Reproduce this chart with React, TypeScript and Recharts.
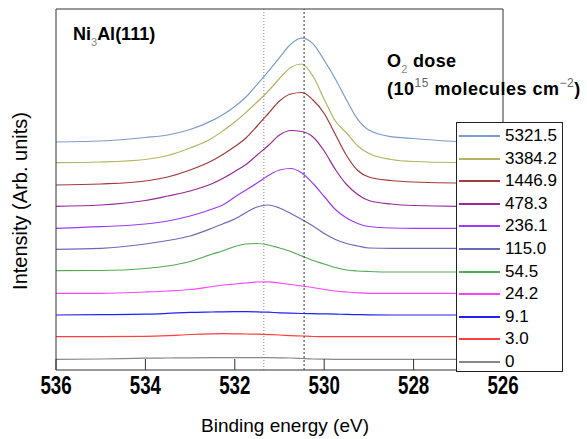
import { LineChart, Line, XAxis, YAxis, ReferenceLine } from 'recharts'

// binding energy grid (eV), high -> low
const energy = [536, 535, 534, 533.5, 533, 532.5, 532.25, 532, 531.75, 531.5, 531.25, 531, 530.75, 530.5, 530.25, 530, 529.75, 529.5, 529.25, 529, 528.5, 528, 527, 526]

// offset O 1s spectra, one per O2 dose (arb. units)
const s5321 = [228, 229, 232.5, 235, 240.5, 249.6, 255.8, 263.5, 273, 285.6, 298.6, 312.3, 325.7, 331.8, 326.1, 309.7, 291, 270, 250.7, 240, 233.3, 231.5, 228.5, 228.3]
const s3384 = [207.3, 208, 210.5, 214.5, 222, 232, 239.7, 248, 257.6, 268, 279, 291.5, 302.5, 306, 293.7, 270.7, 249, 237, 224, 216.5, 210.5, 208.5, 207.5, 207.3]
const s1446 = [185, 186, 189, 193, 200, 209.5, 216, 223.5, 232, 244, 256.5, 269, 276, 277.5, 270, 256.5, 235.5, 214.5, 199.5, 193, 189.5, 188, 187, 187]
const s478 = [163.7, 165, 169.5, 174, 179, 186.5, 192, 198.5, 205.5, 215, 224.5, 235, 239.5, 238.5, 233, 219, 200.5, 185.5, 175.5, 169.5, 166, 164.5, 163.7, 163.7]
const s236 = [141.7, 143.3, 146, 149, 154, 161, 165.5, 173, 180, 187, 194.5, 200, 201.5, 197, 186.5, 173.5, 160.5, 152, 146.5, 143.5, 142, 141.7, 141.7, 141.7]
const s115 = [120.7, 121.7, 126, 129.5, 134, 142, 146.5, 151, 157.5, 163, 165, 162, 156.5, 150.5, 144, 136.5, 130.5, 126.5, 124, 122, 121.7, 121.7, 121.7, 121.7]
const s54 = [99.3, 99.5, 101.5, 104, 108.5, 116, 119.5, 123.5, 126, 126.5, 125, 122, 118.5, 114, 109.5, 106, 102.5, 100, 99, 98.5, 98, 98, 98, 98]
const s24 = [76.7, 76.7, 78, 79, 80.5, 83.5, 85, 86, 87, 88, 88.2, 87, 85.5, 84, 82.5, 80.5, 79, 78, 77.2, 76.7, 76.7, 76.7, 76.7, 76.7]
const s9 = [55, 55.3, 55.8, 56.6, 57.6, 58, 58.2, 58.3, 58.3, 58.2, 57.8, 57.2, 56.8, 56.5, 56.3, 56.1, 55.9, 55.6, 55.4, 55.2, 55, 55, 55, 55]
const s3 = [33.3, 33.3, 33.6, 34.3, 35.5, 36.2, 36.3, 36.2, 36, 35.8, 35.4, 35, 34.4, 34, 33.5, 33.3, 33.3, 33.3, 33.3, 33.3, 33.3, 33.3, 33.3, 33.3]
const s0 = [10.7, 11, 11.8, 12, 12.2, 12.3, 12.3, 12.3, 12.3, 12.3, 12.3, 12.2, 12, 11.5, 11, 10.8, 10.7, 10.7, 10.7, 10.7, 10.7, 10.7, 10.7, 10.7]

const doses = ['5321.5', '3384.2', '1446.9', '478.3', '236.1', '115.0', '54.5', '24.2', '9.1', '3.0', '0']
const colors = ['#7b9ccc', '#b4b464', '#a23a3a', '#992a99', '#9a3cff', '#6a6ab8', '#55aa55', '#ff44ff', '#2020ff', '#ff4040', '#888888']
const series = [s5321, s3384, s1446, s478, s236, s115, s54, s24, s9, s3, s0]

const majorTicks = [536, 534, 532, 530, 528, 526]
const minorTicks = [535, 533, 531, 529, 527]
const allTicks = [536, 535, 534, 533, 532, 531, 530, 529, 528, 527, 526]

const refLines = [531.35, 530.45]

const rows = energy.map((e, i) => {
  const r: Record<string, number> = { e }
  series.forEach((s, k) => { r['d' + k] = s[i] })
  return r
})

const FONT = '"Liberation Sans", Arial, sans-serif'
const AXIS = '#333'

// tall, narrow bold tick digits like the original plot
function EnergyTick({ x, y, payload }: { x?: number; y?: number; payload?: { value: number } }) {
  return (
    <text
      transform={`translate(${x},${(y ?? 0) + 19}) scale(0.72,1)`}
      textAnchor="middle" fontSize={26} fontWeight="bold" fontFamily={FONT} fill="#000"
    >
      {payload?.value}
    </text>
  )
}

function DoseLegend() {
  return (
    <div style={{
      position: 'absolute', left: 456, top: 122, width: 107, height: 250,
      border: '1px solid #222', background: '#fff', boxSizing: 'border-box',
      fontFamily: FONT, fontSize: 17,
    }}>
      {doses.map((d, i) => (
        <div key={d} style={{ position: 'absolute', left: 0, top: 2 + i * 22.6, height: 22, width: 105 }}>
          <span style={{ position: 'absolute', left: 2, top: 10, width: 41, height: 0, borderTop: `2px solid ${colors[i]}` }} />
          <span style={{ position: 'absolute', left: 48, top: 1, lineHeight: '20px' }}>{d}</span>
        </div>
      ))}
    </div>
  )
}

export default function App() {
  return (
    <div style={{ position: 'absolute', left: 0, top: 0, width: 587, height: 439, background: '#fff' }}>
      <LineChart width={587} height={439} data={rows} margin={{ top: 8, right: 83, bottom: 67, left: 55 }}>
        <XAxis
          xAxisId="b" dataKey="e" type="number" domain={[526, 536]} reversed allowDataOverflow
          ticks={majorTicks} interval={0} height={1}
          tickSize={-11} tickMargin={16}
          tick={<EnergyTick />}
          axisLine={{ stroke: AXIS }} tickLine={{ stroke: AXIS }}
        />
        <XAxis
          xAxisId="bm" dataKey="e" type="number" domain={[526, 536]} reversed allowDataOverflow
          ticks={minorTicks} interval={0} height={1}
          tickSize={-6} tick={false} axisLine={false} tickLine={{ stroke: AXIS }}
        />
        <XAxis
          xAxisId="t" orientation="top" dataKey="e" type="number" domain={[526, 536]} reversed allowDataOverflow
          ticks={allTicks} interval={0} height={1}
          tickSize={-5} tick={false} axisLine={{ stroke: AXIS }} tickLine={{ stroke: AXIS }}
        />
        <YAxis yAxisId="l" type="number" domain={[0, 361]} width={1} tick={false} tickLine={false} axisLine={{ stroke: AXIS }} />
        <YAxis yAxisId="r" orientation="right" type="number" domain={[0, 361]} width={1} tick={false} tickLine={false} axisLine={{ stroke: AXIS }} />
        {series.map((_, k) => (
          <Line
            key={doses[k]} xAxisId="b" yAxisId="l" dataKey={'d' + k} type="monotone"
            stroke={colors[k]} strokeWidth={1.2} dot={false} isAnimationActive={false}
          />
        ))}
        <ReferenceLine xAxisId="b" yAxisId="l" x={refLines[0]} stroke="#888" strokeDasharray="1 2" />
        <ReferenceLine xAxisId="b" yAxisId="l" x={refLines[1]} stroke="#333" strokeDasharray="2 2" />
      </LineChart>

      <svg width={587} height={439} style={{ position: 'absolute', left: 0, top: 0, pointerEvents: 'none' }} fontFamily={FONT}>
        <text x={73} y={40} fontSize={18} fontWeight="bold" fill="#000">
          Ni<tspan fontSize={11} fontWeight="normal" fill="#888" dy={6}>3</tspan><tspan dy={-6}>Al(111)</tspan>
        </text>
        <text x={387} y={67} fontSize={18} fontWeight="bold" fill="#000" letterSpacing={0.3}>
          O<tspan fontSize={11} fontWeight="normal" fill="#888" dy={6}>2</tspan><tspan dy={-6}> dose</tspan>
        </text>
        <text x={387} y={95} fontSize={18} fontWeight="bold" fill="#000" letterSpacing={0.5}>
          (10<tspan fontSize={12} fontWeight="normal" fill="#666" dy={-8}>15</tspan><tspan dy={8}> molecules cm</tspan><tspan fontSize={12} fontWeight="normal" fill="#666" dy={-8}>−2</tspan><tspan dy={8}>)</tspan>
        </text>
        <text x={285} y={432} fontSize={19} textAnchor="middle" fill="#000" fontWeight={500}>Binding energy (eV)</text>
        <text x={27} y={201} fontSize={20} textAnchor="middle" fill="#000" transform="rotate(-90 27 201)">Intensity (Arb. units)</text>
      </svg>

      <DoseLegend />
    </div>
  )
}
